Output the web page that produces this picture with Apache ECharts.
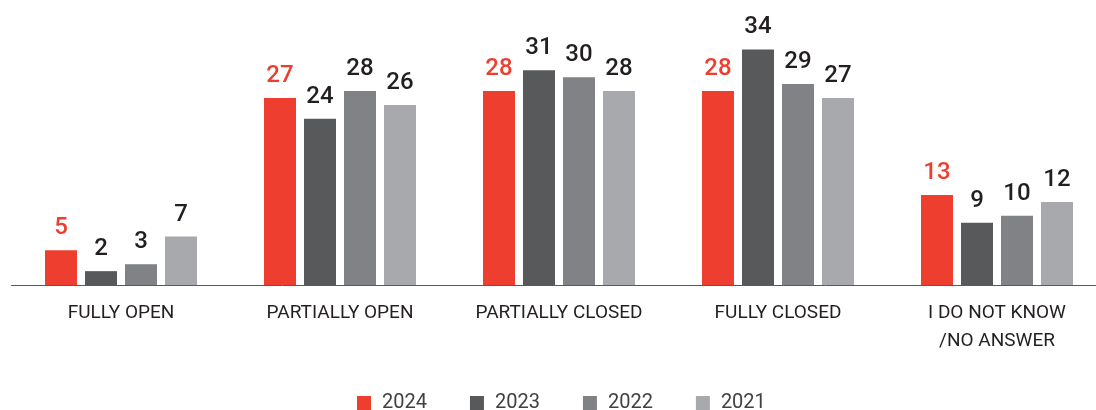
<!DOCTYPE html>
<html>
<head>
<meta charset="UTF-8">
<title></title>
<script src="https://cdn.jsdelivr.net/npm/echarts@6/dist/echarts.min.js"></script>
<style>
  html, body { margin: 0; padding: 0; background: #fff; }
  #main { width: 1096px; height: 410px; }
</style>
</head>
<body>
<div id="main"></div>
<script>
var categories = ['FULLY OPEN', 'PARTIALLY OPEN', 'PARTIALLY CLOSED', 'FULLY CLOSED', 'I DO NOT KNOW\n/NO ANSWER'];
var years = ['2024', '2023', '2022', '2021'];
var v2024 = [5, 27, 28, 28, 13];
var v2023 = [2, 24, 31, 34, 9];
var v2022 = [3, 28, 30, 29, 10];
var v2021 = [7, 26, 28, 27, 12];

var colors = ['#ee3e2f', '#58595b', '#808285', '#a7a9ac'];
var values = [v2024, v2023, v2022, v2021];

var chart = echarts.init(document.getElementById('main'));

var series = years.map(function (y, i) {
  return {
    name: y,
    type: 'bar',
    data: values[i],
    barWidth: 32,
    barGap: '25%',
    itemStyle: { color: colors[i] },
    label: {
      show: true,
      position: 'top',
      distance: 10,
      fontFamily: 'Roboto',
      fontWeight: 500,
      fontSize: 24,
      color: i === 0 ? '#ee3e2f' : '#231f20'
    }
  };
});

chart.setOption({
  animation: false,
  textStyle: { fontFamily: 'Roboto' },
  grid: { left: 11.5, top: 1, width: 1095, height: 284, outerBoundsMode: 'none', containLabel: false },
  legend: {
    data: years,
    top: 388,
    left: 352,
    itemWidth: 14,
    itemHeight: 14,
    itemGap: 43,
    icon: 'rect',
    textStyle: { fontSize: 20, color: '#414042', fontFamily: 'Roboto', padding: [0, 0, 0, 6] }
  },
  xAxis: {
    type: 'category',
    data: categories,
    axisTick: { show: false },
    axisLine: { lineStyle: { color: '#58595b', width: 1 } },
    axisLabel: {
      margin: 14,
      fontSize: 19,
      lineHeight: 28,
      color: '#231f20',
      fontFamily: 'Roboto',
      interval: 0
    }
  },
  yAxis: {
    type: 'value',
    min: 0,
    max: 41,
    show: false,
    splitLine: { show: false }
  },
  series: series
});
</script>
</body>
</html>
